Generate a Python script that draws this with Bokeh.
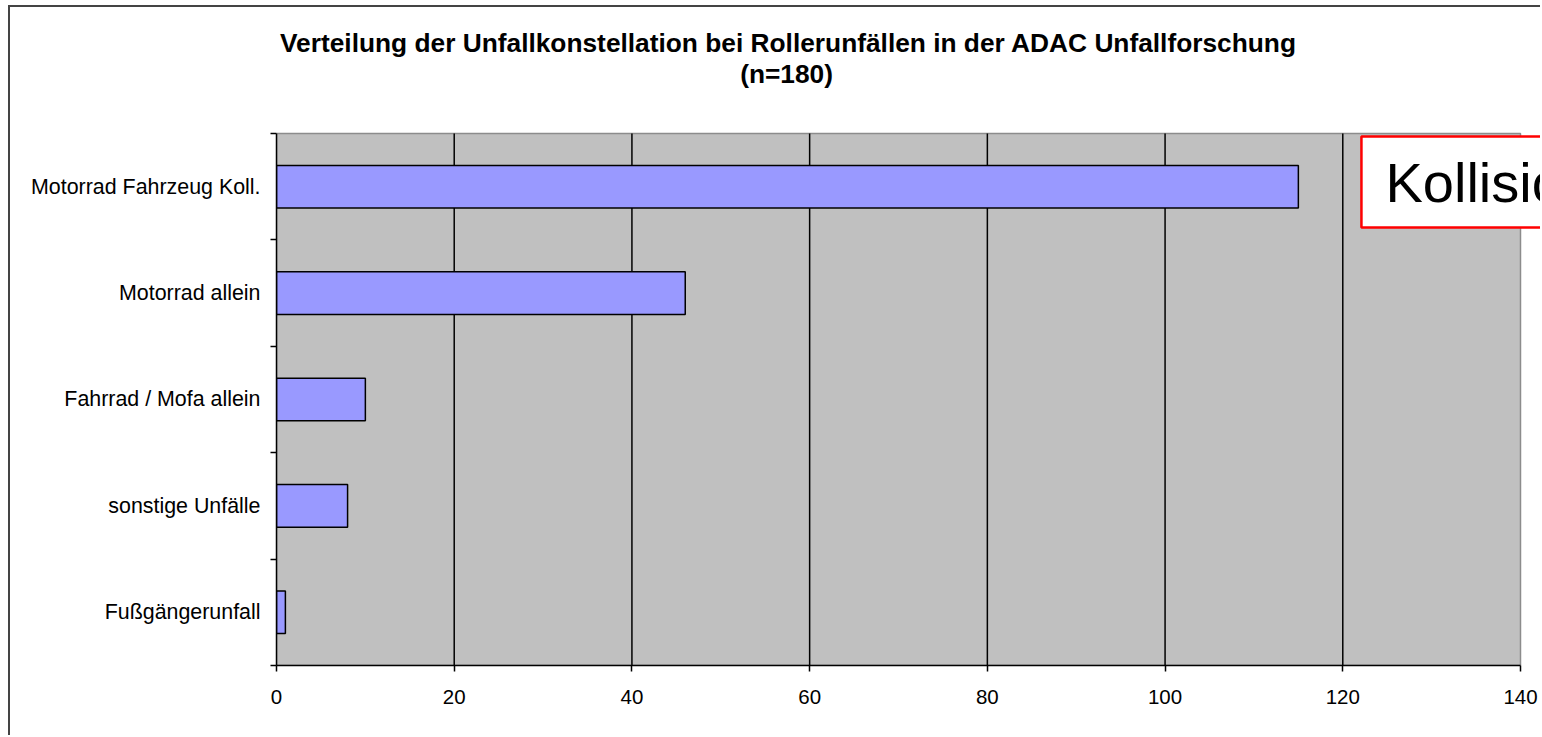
from bokeh.plotting import figure
from bokeh.models import Range1d, FixedTicker, Label
from bokeh.embed import file_html
from bokeh.resources import INLINE

categories = ["Motorrad Fahrzeug Koll.", "Motorrad allein", "Fahrrad / Mofa allein",
              "sonstige Unfälle", "Fußgängerunfall"]
values = [115, 46, 10, 8, 1]
x_ticks = [0, 20, 40, 60, 80, 100, 120, 140]
title_line1 = "Verteilung der Unfallkonstellation bei Rollerunfällen in der ADAC Unfallforschung"
title_line2 = "(n=180)"
box_text = "Kollision"

n = len(categories)
y_pos = [n - i - 0.5 for i in range(n)]
x_max = x_ticks[-1]

FONT = "Liberation Sans"

# the frame also covers the title area and the strip right of the plot area,
# so that texts placed there are not clipped
p = figure(width=1532, height=730, output_backend="svg", toolbar_location=None,
           x_range=Range1d(0, 142.476), y_range=Range1d(0, 6.1842),
           min_border_left=266, min_border_right=0, min_border_top=0, min_border_bottom=72)
p.styles = {"margin-left": "8px", "margin-top": "5px",
            "border-left": "2px solid #444444", "border-top": "2px solid #444444"}

p.background_fill_color = "white"
p.border_fill_color = "white"
p.outline_line_color = None
p.xgrid.grid_line_color = None
p.ygrid.grid_line_color = None

# grey plot area with grey outline
p.quad(left=[0], right=[x_max], bottom=[0], top=[n],
       fill_color="#C0C0C0", line_color="#8C8C8C", line_width=1.5)
# vertical gridlines
grid_x = x_ticks[1:-1]
p.segment(x0=grid_x, y0=[0] * len(grid_x), x1=grid_x, y1=[n] * len(grid_x),
          line_color="black", line_width=1.5)

p.hbar(y=y_pos, right=values, left=0, height=0.4, fill_color="#9999FF",
       line_color="black", line_width=1.5)

# x axis
p.xaxis.ticker = FixedTicker(ticks=x_ticks)
p.xaxis.bounds = (0, x_max)
p.xaxis.axis_line_color = "black"
p.xaxis.axis_line_width = 1.5
p.xaxis.major_tick_in = 0
p.xaxis.major_tick_out = 6
p.xaxis.major_tick_line_width = 1.5
p.xaxis.minor_tick_line_color = None
p.xaxis.major_label_text_font = FONT
p.xaxis.major_label_text_font_size = "20.5px"
p.xaxis.major_label_text_color = "black"
p.xaxis.major_label_standoff = 18

# y axis: labels at category centres, ticks at category boundaries
p.yaxis.ticker = FixedTicker(ticks=y_pos, minor_ticks=list(range(n + 1)))
p.yaxis.bounds = (0, n)
p.yaxis.major_label_overrides = {y: c for y, c in zip(y_pos, categories)}
p.yaxis.axis_line_color = "black"
p.yaxis.axis_line_width = 1.5
p.yaxis.major_tick_in = 0
p.yaxis.major_tick_out = 0
p.yaxis.minor_tick_in = 0
p.yaxis.minor_tick_out = 6
p.yaxis.minor_tick_line_color = "black"
p.yaxis.minor_tick_line_width = 1.5
p.yaxis.major_label_text_font = FONT
p.yaxis.major_label_text_font_size = "21.4px"
p.yaxis.major_label_text_color = "black"
p.yaxis.major_label_standoff = 10

# title (two lines)
p.add_layout(Label(x=57.62, y=5.855, text=title_line1, text_align="center",
                   text_baseline="middle", text_font=FONT, text_font_style="bold",
                   text_font_size="26.3px", text_color="black"))
p.add_layout(Label(x=57.4, y=5.56, text=title_line2, text_align="center",
                   text_baseline="middle", text_font=FONT, text_font_style="bold",
                   text_font_size="26.3px", text_color="black"))

# red-bordered box
p.add_layout(Label(x=122.1, y=4.544, text=box_text, text_align="left",
                   text_baseline="middle", text_font=FONT, text_font_size="56px",
                   text_color="black", background_fill_color="white",
                   border_line_color="#FF0000", border_line_width=2.5,
                   padding=(24, 14)))

open("out.html", "w").write(file_html(p, INLINE))
